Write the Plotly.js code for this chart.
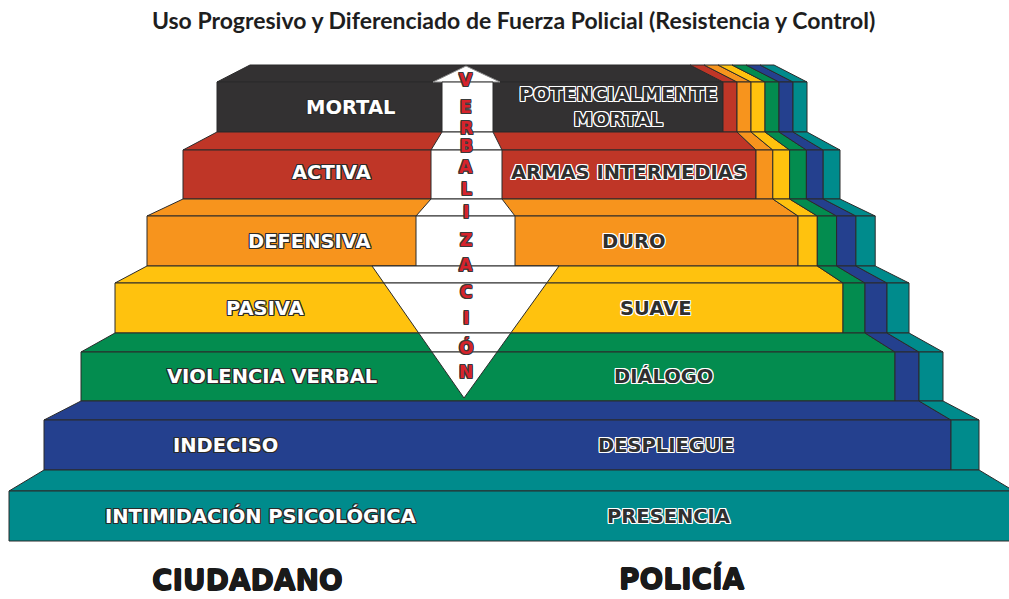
<!DOCTYPE html>
<html>
<head>
<meta charset="utf-8">
<script src="https://cdn.plot.ly/plotly-3.0.1.min.js"></script>
<style>html,body{margin:0;padding:0;background:#fff;}#chart{width:1009px;height:599px;}</style>
</head>
<body>
<div id="chart"></div>
<script>
// ---------------- DATA ----------------
const chartTitle = 'Uso Progresivo y Diferenciado de Fuerza Policial (Resistencia y Control)';
const citizenResistance = ['MORTAL', 'ACTIVA', 'DEFENSIVA', 'PASIVA', 'VIOLENCIA VERBAL', 'INDECISO', 'INTIMIDACIÓN PSICOLÓGICA'];
const policeForce = ['POTENCIALMENTE<br>MORTAL', 'ARMAS INTERMEDIAS', 'DURO', 'SUAVE', 'DIÁLOGO', 'DESPLIEGUE', 'PRESENCIA'];
const levelColors = ['#333132', '#bf3627', '#f7941d', '#ffc20e', '#038c4f', '#24408e', '#008b8c'];
const centralWord = 'VERBALIZACIÓN';
const sideTitles = ['CIUDADANO', 'POLICÍA'];

// ---------------- LAYOUT GEOMETRY (pixel-like axis units) ----------------
const FRONT_TOP = [82, 150, 216, 283, 352, 420, 491];
const FRONT_BOT = [132, 199, 266, 333, 401, 470, 541];
const LEFT = [217, 183, 147, 115, 81, 44, 9];
const MAIN_RIGHT = [723, 756, 798, 843, 895, 951, 1014];
const STRIP_W = [14, 16.8, 19.3, 22, 24, 28, 0];
const CAP_TOP = 65, CAP_SHIFT = 33;
const WHITE_COLS = [[442, 493], [431, 502], [416, 515]];
const ARROW_HEAD = {left: 433, right: 500, apexX: 466, apexY: 66};
const TRI = {left: 372, right: 559, top: 266, apexX: 464, apexY: 398};
const LEFT_LABEL_X = [350, 331, 309, 265, 272, 225, 260];
const RIGHT_LABEL_X = [618, 629, 634, 655, 663, 666, 668];
const LETTER_X = 466;
const LETTER_Y = [80, 107, 128, 146, 167, 189, 212, 240, 265, 292, 318, 347, 372];
const EDGE = '#2b2b2b';

const n = citizenResistance.length;
// colour intervals on the front face of each level
const intervals = [];
for (let i = 0; i < n; i++) {
  const row = {};
  for (let c = i; c < n; c++) {
    if (c === i) row[c] = [LEFT[i], MAIN_RIGHT[i]];
    else row[c] = [MAIN_RIGHT[i] + (c - i - 1) * STRIP_W[i], MAIN_RIGHT[i] + (c - i) * STRIP_W[i]];
  }
  intervals.push(row);
}

const traces = [];
function poly(xs, ys, fill, lineColor, lw) {
  traces.push({
    type: 'scatter', mode: 'lines', x: xs.concat([xs[0]]), y: ys.concat([ys[0]]),
    fill: 'toself', fillcolor: fill, line: {color: lineColor || EDGE, width: lw === undefined ? 1 : lw},
    hoverinfo: 'skip', showlegend: false
  });
}

for (let i = 0; i < n; i++) {
  // top face
  const yT = i === 0 ? CAP_TOP : FRONT_BOT[i - 1];
  const yB = FRONT_TOP[i];
  for (let c = i; c < n; c++) {
    let top;
    if (i === 0) {
      const iv = intervals[0][c];
      top = [c === 0 ? iv[0] + CAP_SHIFT : iv[0] - CAP_SHIFT, iv[1] - CAP_SHIFT];
    } else {
      top = c === i ? [LEFT[i - 1], intervals[i - 1][c][1]] : intervals[i - 1][c];
    }
    const bot = intervals[i][c];
    poly([top[0], top[1], bot[1], bot[0]], [yT, yT, yB, yB], levelColors[c]);
  }
  // front face
  for (let c = i; c < n; c++) {
    const iv = intervals[i][c];
    poly([iv[0], iv[1], iv[1], iv[0]], [FRONT_TOP[i], FRONT_TOP[i], FRONT_BOT[i], FRONT_BOT[i]], levelColors[c]);
  }
}

// white central arrow / column
poly([ARROW_HEAD.left, ARROW_HEAD.right, ARROW_HEAD.apexX], [FRONT_TOP[0], FRONT_TOP[0], ARROW_HEAD.apexY], '#ffffff', '#888', 1);
for (let i = 0; i < WHITE_COLS.length; i++) {
  const w = WHITE_COLS[i];
  if (i > 0) {
    const p = WHITE_COLS[i - 1];
    poly([p[0], p[1], w[1], w[0]], [FRONT_BOT[i - 1], FRONT_BOT[i - 1], FRONT_TOP[i], FRONT_TOP[i]], '#ffffff');
  }
  poly([w[0], w[1], w[1], w[0]], [FRONT_TOP[i], FRONT_TOP[i], FRONT_BOT[i], FRONT_BOT[i]], '#ffffff');
}
// inverted triangle split by level boundaries
function triX(y) {
  const t = (y - TRI.top) / (TRI.apexY - TRI.top);
  return [TRI.left + (TRI.apexX - TRI.left) * t, TRI.right + (TRI.apexX - TRI.right) * t];
}
const cuts = [TRI.top, FRONT_TOP[3], FRONT_BOT[3], FRONT_TOP[4], TRI.apexY];
for (let k = 0; k < cuts.length - 1; k++) {
  const a = triX(cuts[k]), b = triX(cuts[k + 1]);
  poly([a[0], a[1], b[1], b[0]], [cuts[k], cuts[k], cuts[k + 1], cuts[k + 1]], '#ffffff');
}

// ---------------- TEXT ----------------
const outline = (col) => `-1px -1px 0 ${col}, 1px -1px 0 ${col}, -1px 1px 0 ${col}, 1px 1px 0 ${col}, 0 1px 0 ${col}, 0 -1px 0 ${col}, 1px 0 0 ${col}, -1px 0 0 ${col}`;
const annotations = [];
for (let i = 0; i < n; i++) {
  const yMid = (FRONT_TOP[i] + FRONT_BOT[i]) / 2 - (i === 1 ? 2 : 0);
  annotations.push({x: LEFT_LABEL_X[i], y: yMid, xref: 'x', yref: 'y', text: '<b>' + citizenResistance[i] + '</b>', showarrow: false,
    font: {family: 'DejaVu Sans', size: 19.5, color: '#ffffff', shadow: outline('#2b2b2b')}});
  annotations.push({x: RIGHT_LABEL_X[i], y: yMid, xref: 'x', yref: 'y', text: '<b>' + policeForce[i] + '</b>', showarrow: false,
    font: {family: 'DejaVu Sans', size: 19.5, color: '#2f2f2f', shadow: outline('#ffffff')}});
}
const letters = Array.from(centralWord);
letters.forEach((ch, k) => {
  annotations.push({x: LETTER_X, y: LETTER_Y[k], xref: 'x', yref: 'y', text: '<b>' + ch + '</b>', showarrow: false,
    font: {family: 'DejaVu Sans', size: 17, color: '#d7232b', shadow: outline('#3a3a3a')}});
});
const heavy = '0.6px 0 0 #1a1a1a, -0.6px 0 0 #1a1a1a, 0 0.6px 0 #1a1a1a, 0 -0.6px 0 #1a1a1a';
annotations.push({x: 247, y: 580, xref: 'x', yref: 'y', text: '<b>' + sideTitles[0] + '</b>', showarrow: false,
  font: {family: 'DejaVu Sans', size: 28, color: '#1a1a1a', shadow: heavy}});
annotations.push({x: 682, y: 579, xref: 'x', yref: 'y', text: '<b>' + sideTitles[1] + '</b>', showarrow: false,
  font: {family: 'DejaVu Sans', size: 28, color: '#1a1a1a', shadow: heavy}});

const layout = {
  width: 1009, height: 599,
  margin: {l: 0, r: 0, t: 0, b: 0},
  paper_bgcolor: '#ffffff', plot_bgcolor: '#ffffff',
  title: {text: '<b>' + chartTitle + '</b>', x: 0.509, xanchor: 'center', y: 0.965, yanchor: 'middle', yref: 'container',
    font: {family: 'Lato', size: 23, color: '#1e1e1e'}},
  xaxis: {range: [0, 1009], visible: false, fixedrange: true},
  yaxis: {range: [599, 0], visible: false, fixedrange: true},
  showlegend: false,
  annotations: annotations
};
Plotly.newPlot('chart', traces, layout, {staticPlot: true, displayModeBar: false});
</script>
</body>
</html>
